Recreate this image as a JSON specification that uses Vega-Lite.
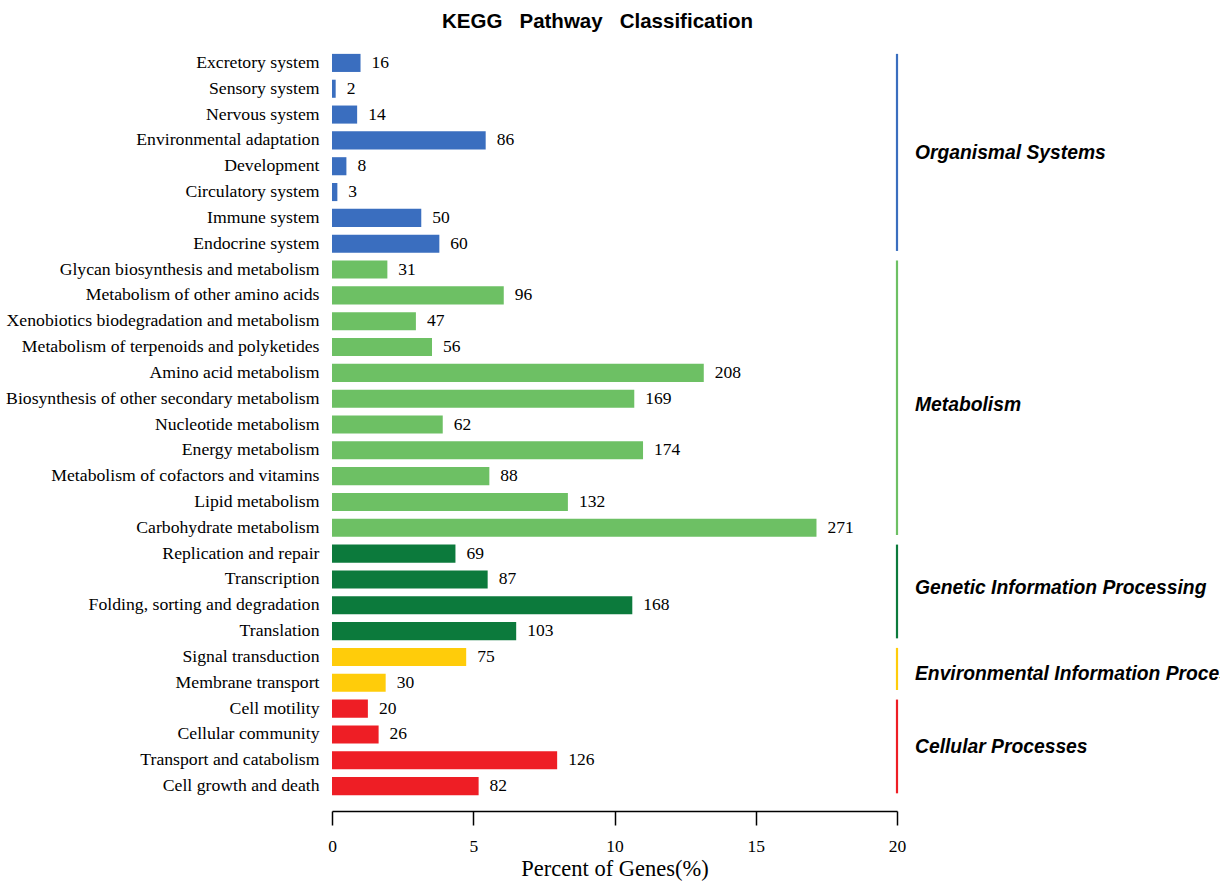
{
  "$schema": "https://vega.github.io/schema/vega-lite/v6.json",
  "width": 565,
  "height": 749,
  "autosize": {"type": "none"},
  "padding": {"left": 332, "top": 50, "right": 323, "bottom": 85},
  "background": "white",
  "title": {
    "text": "KEGG\u00a0\u00a0\u00a0Pathway\u00a0\u00a0\u00a0Classification",
    "font": "Liberation Sans",
    "fontSize": 20.5,
    "fontWeight": "bold",
    "color": "black",
    "anchor": "middle",
    "dx": -17,
    "offset": 18
  },
  "datasets": {
    "pathways": [
      {"pathway": "Excretory system", "group": "Organismal Systems", "count": 16, "pct": 1.01},
      {"pathway": "Sensory system", "group": "Organismal Systems", "count": 2, "pct": 0.13},
      {"pathway": "Nervous system", "group": "Organismal Systems", "count": 14, "pct": 0.89},
      {"pathway": "Environmental adaptation", "group": "Organismal Systems", "count": 86, "pct": 5.44},
      {"pathway": "Development", "group": "Organismal Systems", "count": 8, "pct": 0.51},
      {"pathway": "Circulatory system", "group": "Organismal Systems", "count": 3, "pct": 0.19},
      {"pathway": "Immune system", "group": "Organismal Systems", "count": 50, "pct": 3.16},
      {"pathway": "Endocrine system", "group": "Organismal Systems", "count": 60, "pct": 3.8},
      {"pathway": "Glycan biosynthesis and metabolism", "group": "Metabolism", "count": 31, "pct": 1.96},
      {"pathway": "Metabolism of other amino acids", "group": "Metabolism", "count": 96, "pct": 6.08},
      {"pathway": "Xenobiotics biodegradation and metabolism", "group": "Metabolism", "count": 47, "pct": 2.97},
      {"pathway": "Metabolism of terpenoids and polyketides", "group": "Metabolism", "count": 56, "pct": 3.54},
      {"pathway": "Amino acid metabolism", "group": "Metabolism", "count": 208, "pct": 13.16},
      {"pathway": "Biosynthesis of other secondary metabolism", "group": "Metabolism", "count": 169, "pct": 10.7},
      {"pathway": "Nucleotide metabolism", "group": "Metabolism", "count": 62, "pct": 3.92},
      {"pathway": "Energy metabolism", "group": "Metabolism", "count": 174, "pct": 11.01},
      {"pathway": "Metabolism of cofactors and vitamins", "group": "Metabolism", "count": 88, "pct": 5.57},
      {"pathway": "Lipid metabolism", "group": "Metabolism", "count": 132, "pct": 8.35},
      {"pathway": "Carbohydrate metabolism", "group": "Metabolism", "count": 271, "pct": 17.15},
      {"pathway": "Replication and repair", "group": "Genetic Information Processing", "count": 69, "pct": 4.37},
      {"pathway": "Transcription", "group": "Genetic Information Processing", "count": 87, "pct": 5.51},
      {"pathway": "Folding, sorting and degradation", "group": "Genetic Information Processing", "count": 168, "pct": 10.63},
      {"pathway": "Translation", "group": "Genetic Information Processing", "count": 103, "pct": 6.52},
      {"pathway": "Signal transduction", "group": "Environmental Information Processing", "count": 75, "pct": 4.75},
      {"pathway": "Membrane transport", "group": "Environmental Information Processing", "count": 30, "pct": 1.9},
      {"pathway": "Cell motility", "group": "Cellular Processes", "count": 20, "pct": 1.27},
      {"pathway": "Cellular community", "group": "Cellular Processes", "count": 26, "pct": 1.65},
      {"pathway": "Transport and catabolism", "group": "Cellular Processes", "count": 126, "pct": 7.97},
      {"pathway": "Cell growth and death", "group": "Cellular Processes", "count": 82, "pct": 5.19}
    ],
    "groups": [
      {"group": "Organismal Systems", "first": "Excretory system", "last": "Endocrine system", "mid": "Environmental adaptation"},
      {"group": "Metabolism", "first": "Glycan biosynthesis and metabolism", "last": "Carbohydrate metabolism", "mid": "Biosynthesis of other secondary metabolism"},
      {"group": "Genetic Information Processing", "first": "Replication and repair", "last": "Translation", "mid": "Transcription"},
      {"group": "Environmental Information Processing", "first": "Signal transduction", "last": "Membrane transport", "mid": "Signal transduction"},
      {"group": "Cellular Processes", "first": "Cell motility", "last": "Cell growth and death", "mid": "Cellular community"}
    ]
  },
  "config": {
    "view": {"stroke": null},
    "axis": {"grid": false},
    "text": {"font": "Liberation Sans", "fontSize": 19.3, "fontWeight": "bold", "fontStyle": "italic", "color": "black"}
  },
  "layer": [
    {
      "data": {"name": "pathways"},
      "mark": {"type": "bar"},
      "encoding": {
        "y": {
          "field": "pathway",
          "type": "nominal",
          "sort": null,
          "scale": {
            "domain": [
              "Excretory system", "Sensory system", "Nervous system", "Environmental adaptation",
              "Development", "Circulatory system", "Immune system", "Endocrine system",
              "Glycan biosynthesis and metabolism", "Metabolism of other amino acids",
              "Xenobiotics biodegradation and metabolism", "Metabolism of terpenoids and polyketides",
              "Amino acid metabolism", "Biosynthesis of other secondary metabolism",
              "Nucleotide metabolism", "Energy metabolism", "Metabolism of cofactors and vitamins",
              "Lipid metabolism", "Carbohydrate metabolism", "Replication and repair",
              "Transcription", "Folding, sorting and degradation", "Translation",
              "Signal transduction", "Membrane transport", "Cell motility",
              "Cellular community", "Transport and catabolism", "Cell growth and death"
            ],
            "paddingInner": 0.3,
            "paddingOuter": 0.15
          },
          "axis": {
            "title": null,
            "domain": false,
            "ticks": false,
            "labelPadding": 13,
            "labelFont": "Liberation Serif",
            "labelFontSize": 17.7,
            "labelColor": "black",
            "labelLimit": 400
          }
        },
        "x": {
          "field": "pct",
          "type": "quantitative",
          "scale": {"domain": [0, 20], "nice": false},
          "axis": {
            "title": "Percent of Genes(%)",
            "titleFont": "Liberation Serif",
            "titleFontSize": 22.5,
            "titleFontWeight": "normal",
            "titleColor": "black",
            "titlePadding": 3,
            "values": [0, 5, 10, 15, 20],
            "format": "d",
            "offset": 12,
            "tickSize": 14,
            "tickColor": "black",
            "tickWidth": 1.5,
            "domainColor": "black",
            "domainWidth": 1.5,
            "labelFont": "Liberation Serif",
            "labelFontSize": 17.5,
            "labelColor": "black",
            "labelPadding": 12,
            "labelFlush": false
          }
        },
        "color": {
          "field": "group",
          "type": "nominal",
          "scale": {
            "domain": ["Organismal Systems", "Metabolism", "Genetic Information Processing", "Environmental Information Processing", "Cellular Processes"],
            "range": ["#3A6EBF", "#6DC064", "#0C7A3C", "#FFCC0A", "#EE1E25"]
          },
          "legend": null
        }
      }
    },
    {
      "data": {"name": "pathways"},
      "mark": {"type": "text", "align": "left", "baseline": "middle", "dx": 11, "font": "Liberation Serif", "fontSize": 17.5, "fontWeight": "normal", "fontStyle": "normal", "color": "black"},
      "encoding": {
        "y": {"field": "pathway", "type": "nominal", "sort": null},
        "x": {"field": "pct", "type": "quantitative"},
        "text": {"field": "count", "type": "quantitative"}
      }
    },
    {
      "data": {"name": "groups"},
      "mark": {"type": "rule", "strokeWidth": 2.2},
      "encoding": {
        "y": {"field": "first", "type": "nominal", "bandPosition": 0},
        "y2": {"field": "last", "bandPosition": 0.9},
        "x": {"datum": 20},
        "color": {"field": "group", "type": "nominal", "legend": null}
      }
    },
    {
      "data": {"name": "groups"},
      "transform": [{"filter": "datum.group === 'Organismal Systems' || datum.group === 'Cellular Processes'"}],
      "mark": {"type": "text", "align": "left", "baseline": "middle", "dx": 18},
      "encoding": {
        "y": {"field": "mid", "type": "nominal", "bandPosition": 1.2},
        "x": {"datum": 20},
        "text": {"field": "group"}
      }
    },
    {
      "data": {"name": "groups"},
      "transform": [{"filter": "datum.group === 'Metabolism'"}],
      "mark": {"type": "text", "align": "left", "baseline": "middle", "dx": 18},
      "encoding": {
        "y": {"field": "mid", "type": "nominal", "bandPosition": 0.83},
        "x": {"datum": 20},
        "text": {"field": "group"}
      }
    },
    {
      "data": {"name": "groups"},
      "transform": [{"filter": "datum.group === 'Genetic Information Processing'"}],
      "mark": {"type": "text", "align": "left", "baseline": "middle", "dx": 18},
      "encoding": {
        "y": {"field": "mid", "type": "nominal", "bandPosition": 0.95},
        "x": {"datum": 20},
        "text": {"field": "group"}
      }
    },
    {
      "data": {"name": "groups"},
      "transform": [{"filter": "datum.group === 'Environmental Information Processing'"}],
      "mark": {"type": "text", "align": "left", "baseline": "middle", "dx": 18},
      "encoding": {
        "y": {"field": "mid", "type": "nominal", "bandPosition": 1.45},
        "x": {"datum": 20},
        "text": {"field": "group"}
      }
    }
  ]
}
